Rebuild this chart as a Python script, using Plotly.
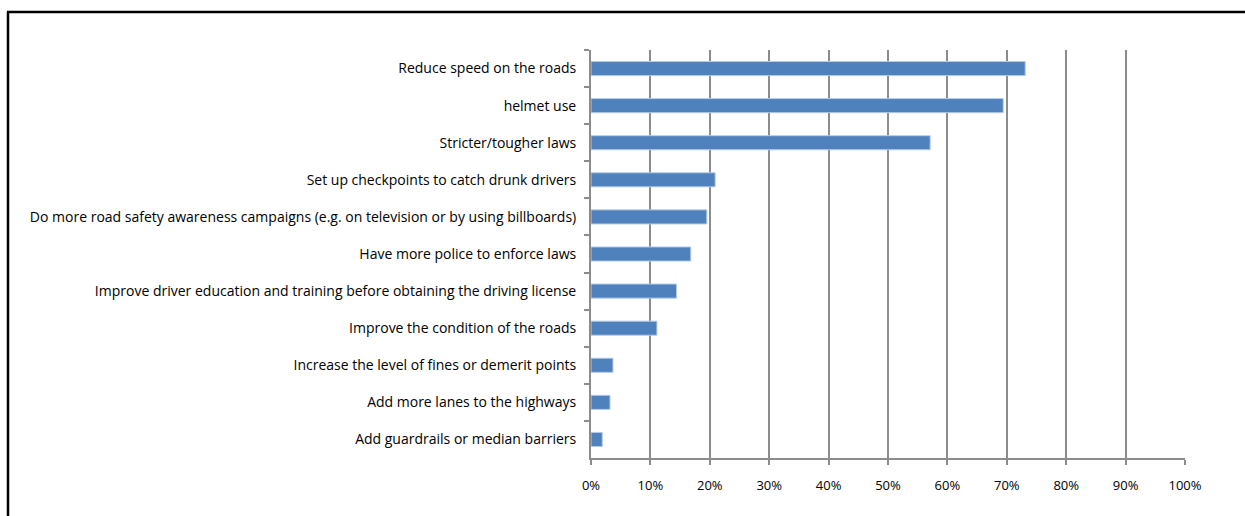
import plotly.graph_objects as go

categories = [
    "Reduce speed on the roads",
    "helmet use",
    "Stricter/tougher laws",
    "Set up checkpoints to catch drunk drivers",
    "Do more road safety awareness campaigns (e.g. on television or by using billboards)",
    "Have more police to enforce laws",
    "Improve driver education and training before obtaining the driving license",
    "Improve the condition of the roads",
    "Increase the level of fines or demerit points",
    "Add more lanes to the highways",
    "Add guardrails or median barriers",
]
values = [0.731, 0.694, 0.571, 0.209, 0.195, 0.168, 0.144, 0.111, 0.037, 0.032, 0.019]
x_ticks = [i / 10 for i in range(11)]
x_tick_labels = [f"{i*10}%" for i in range(11)]

W, H = 1245, 516
ml, mr, mt, mb = 591, 60, 50, 58
pw, ph = W - ml - mr, H - mt - mb

fig = go.Figure(go.Bar(
    x=values, y=categories, orientation="h",
    marker=dict(color="#4F81BD", line=dict(color="#B4CCE8", width=1)),
    width=0.38,
))

def px_x(p):
    return (p - ml) / pw

def px_y(p):
    return 1 - (p - mt) / ph

fig.update_layout(
    width=W, height=H,
    margin=dict(l=ml, r=mr, t=mt, b=mb),
    paper_bgcolor="white", plot_bgcolor="white",
    font=dict(family="Open Sans", size=14, color="#000000"),
    showlegend=False,
    xaxis=dict(
        range=[0, 1], tickvals=x_ticks, ticktext=x_tick_labels,
        showgrid=True, gridcolor="#8C8C8C", gridwidth=2,
        showline=True, linecolor="#8C8C8C", linewidth=2,
        ticks="outside", ticklen=5, tickcolor="#8C8C8C", tickwidth=2,
        zeroline=False, fixedrange=True,
        tickfont=dict(size=13), ticklabelstandoff=9,
    ),
    yaxis=dict(
        autorange="reversed", type="category",
        showgrid=False, showline=True, linecolor="#8C8C8C", linewidth=2,
        ticks="outside", ticklen=5, tickcolor="#8C8C8C", tickwidth=2,
        tickson="boundaries", ticklabelstandoff=10,
        tickfont=dict(size=14),
    ),
    shapes=[
        dict(type="line", xref="paper", yref="paper",
             x0=px_x(8), x1=px_x(8), y0=px_y(H + 5), y1=px_y(12),
             line=dict(color="black", width=2.5)),
        dict(type="line", xref="paper", yref="paper",
             x0=px_x(7), x1=px_x(W + 5), y0=px_y(12), y1=px_y(12),
             line=dict(color="black", width=2.5)),
    ],
)

fig.write_html("out.html")
